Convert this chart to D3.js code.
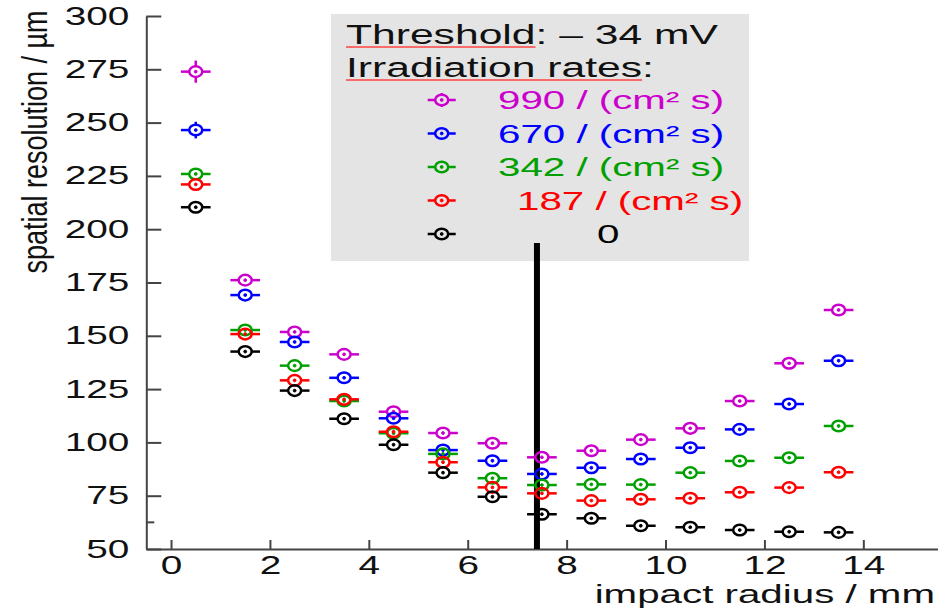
<!DOCTYPE html>
<html>
<head>
<meta charset="utf-8">
<script src="https://cdn.jsdelivr.net/npm/d3@7"></script>
<style>
  body { margin: 0; background: #fff; }
  svg { display: block; font-family: "Liberation Sans", Arial, sans-serif; }
</style>
</head>
<body>
<svg id="chart" width="943" height="610"></svg>
<script>
// impact radius bins (mm)
var radius = [0.5, 1.5, 2.5, 3.5, 4.5, 5.5, 6.5, 7.5, 8.5, 9.5, 10.5, 11.5, 12.5, 13.5];
var radiusErr = 0.3;

// spatial resolution (um) per irradiation rate
var rateLabels = ["990 / (cm\u00b2 s)", "670 / (cm\u00b2 s)", "342 / (cm\u00b2 s)", "187 / (cm\u00b2 s)", "0"];
var rateColors = ["#cc00cc", "#0000ff", "#00a000", "#ff0000", "#000000"];
var res990 = [273.9, 176.1, 151.8, 141.3, 114.4, 104.4, 99.6, 93.0, 96.1, 101.3, 106.6, 119.4, 137.1, 162.1];
var res670 = [246.5, 169.1, 147.1, 130.3, 111.3, 96.4, 91.4, 85.2, 88.1, 92.2, 97.5, 106.1, 118.0, 138.3];
var res342 = [225.9, 152.7, 136.0, 119.4, 104.3, 94.6, 83.2, 80.0, 80.3, 80.2, 85.8, 91.3, 92.8, 107.7];
var res187 = [221.0, 150.8, 129.1, 120.2, 105.0, 90.7, 78.9, 76.1, 72.7, 73.3, 73.8, 76.6, 78.8, 86.0];
var res0 = [210.3, 142.6, 124.3, 111.1, 98.9, 85.8, 74.5, 66.3, 64.4, 60.9, 60.2, 58.9, 58.1, 57.8];
var err990 = [5.2, 1.5, 1, 1, 1, 1, 1, 1, 1, 1, 1, 1, 1, 1];
var err670 = [3.9, 1, 1, 1, 1, 1, 1, 1, 1, 1, 1, 1, 1, 1];
var err342 = [1.5, 1, 1, 1, 1, 1, 1, 1, 1, 1, 1, 1, 1, 1];
var err187 = [1.5, 1, 1, 1, 1, 1, 1, 1, 1, 1, 1, 1, 1, 1];
var err0 = [1, 1, 1, 1, 1, 1, 1, 1, 1, 1, 1, 1, 1, 1];

var xTicks = [0, 2, 4, 6, 8, 10, 12, 14];
var yTicks = [50, 75, 100, 125, 150, 175, 200, 225, 250, 275, 300];
var yMinorTicks = [62.5];
var cutRadius = 7.4;
var cutTop = 193.5;

var SX = 1.55; // glyphs in the original are stretched sideways

var svg = d3.select("#chart");
var x = d3.scaleLinear().domain([-0.5, 15.5]).range([146.3, 937.5]);
var y = d3.scaleLinear().domain([50, 300]).range([549, 16]);

function label(g, px, py, str, size, anchor, color) {
    return g.append("text")
        .attr("transform", "translate(" + px + "," + py + ") scale(" + SX + ",1)")
        .attr("text-anchor", anchor)
        .attr("fill", color)
        .style("font-size", size + "px")
        .text(str);
}

function stretchLabels(axisG) {
    axisG.selectAll("text").each(function() {
        var t = d3.select(this);
        t.attr("x", +t.attr("x") / SX).attr("transform", "scale(" + SX + ",1)");
    });
}

// axes
var xAxis = svg.append("g")
    .attr("transform", "translate(0," + y(50) + ")")
    .call(d3.axisBottom(x).tickValues(xTicks).tickSizeInner(-9).tickSizeOuter(0).tickPadding(7));
var yAxis = svg.append("g")
    .attr("transform", "translate(" + x(-0.5) + ",0)")
    .call(d3.axisLeft(y).tickValues(yTicks).tickSizeInner(-15).tickSizeOuter(0).tickPadding(17));
[xAxis, yAxis].forEach(function(g) {
    g.attr("font-family", null).attr("font-size", null);
    g.selectAll("path, line").attr("stroke", "#444").attr("stroke-width", 2);
    g.selectAll("text").attr("fill", "#111").style("font-size", "25px");
    stretchLabels(g);
});
yAxis.selectAll(".minor")
    .data(yMinorTicks)
    .enter()
    .append("line")
    .attr("class", "minor")
    .attr("x1", 0)
    .attr("x2", 8)
    .attr("y1", d => y(d))
    .attr("y2", d => y(d))
    .attr("stroke", "#444")
    .attr("stroke-width", 2);

// axis titles
label(svg, 935, 603, "impact radius / mm", 26, "end", "#111");
svg.append("text")
    .attr("transform", "translate(47,142) rotate(-90) scale(1,1.3)")
    .attr("text-anchor", "middle")
    .attr("fill", "#111")
    .style("font-size", "27px")
    .text("spatial resolution / \u00b5m");

// legend box
var leg = svg.append("g");
leg.append("rect")
    .attr("x", 331).attr("y", 14)
    .attr("width", 418).attr("height", 247)
    .attr("fill", "#e4e4e4");

function headline(py, head, rest) {
    var t = label(leg, 346, py, "", 27.5, "start", "#111");
    t.append("tspan").text(head);
    t.append("tspan").text(rest);
    var w = t.node().getSubStringLength(0, head.length) * SX;
    leg.append("line")
        .attr("x1", 346).attr("x2", 346 + w)
        .attr("y1", py + 3).attr("y2", py + 3)
        .attr("stroke", "#f44").attr("stroke-width", 1.6);
}
headline(44, "Threshold", ": \u2013 34 mV");
headline(77, "Irradiation rates", ":");

function marker(g, cx, cy, color, dyErr, dxErr) {
    var m = g.append("g").attr("stroke", color).attr("stroke-width", 2.5).attr("fill", "none");
    m.append("line").attr("x1", cx - dxErr).attr("x2", cx - 6.5).attr("y1", cy).attr("y2", cy);
    m.append("line").attr("x1", cx + 6.5).attr("x2", cx + dxErr).attr("y1", cy).attr("y2", cy);
    if (dyErr > 5.5) {
        m.append("line").attr("x1", cx).attr("x2", cx).attr("y1", cy - dyErr).attr("y2", cy - 5.3);
        m.append("line").attr("x1", cx).attr("x2", cx).attr("y1", cy + 5.3).attr("y2", cy + dyErr);
    }
    m.append("ellipse").attr("cx", cx).attr("cy", cy).attr("rx", 6.5).attr("ry", 5.3);
    m.append("circle").attr("cx", cx).attr("cy", cy).attr("r", 1.4).attr("fill", color).attr("stroke-width", 1);
}

var legX = [498, 498, 498, 517, 597];
rateLabels.forEach(function(name, i) {
    var cy = 100 + i * 33.5;
    marker(leg, 441.7, cy, rateColors[i], i === 0 ? 7 : 0, 14);
    label(leg, legX[i], cy + 9, name, 26, "start", rateColors[i]);
});

// cut line
svg.append("line")
    .attr("x1", x(cutRadius)).attr("x2", x(cutRadius))
    .attr("y1", y(50)).attr("y2", y(cutTop))
    .attr("stroke", "#000").attr("stroke-width", 6);

// data points
var series = [res990, res670, res342, res187, res0];
var errs = [err990, err670, err342, err187, err0];
var plot = svg.append("g");
series.forEach(function(vals, s) {
    vals.forEach(function(v, i) {
        var dx = x(radius[i] + radiusErr) - x(radius[i]);
        var dy = y(v - errs[s][i]) - y(v);
        marker(plot, x(radius[i]), y(v), rateColors[s], dy, dx);
    });
});
</script>
</body>
</html>
